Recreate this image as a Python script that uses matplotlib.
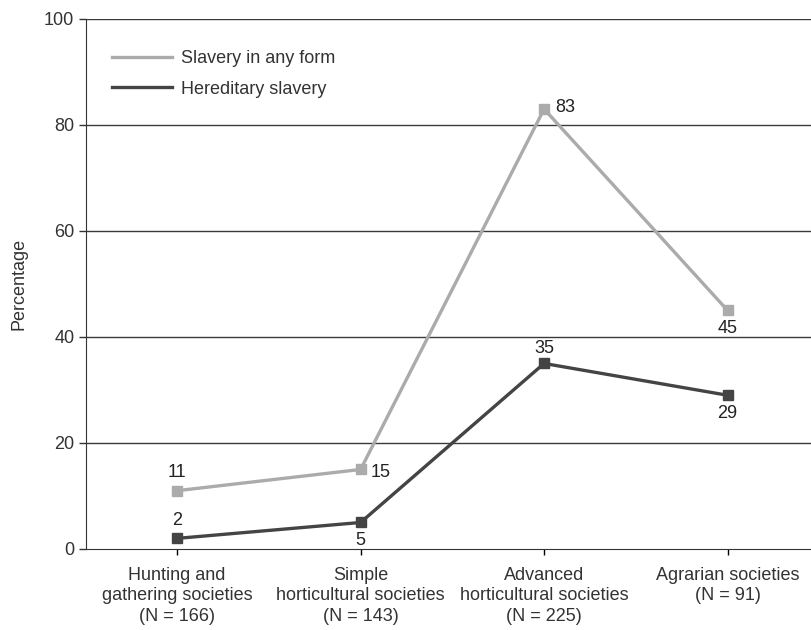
import matplotlib
matplotlib.use('Agg')

from matplotlib import pyplot as plt

categories = ['Hunting and\ngathering societies\n(N = 166)',
              'Simple\nhorticultural societies\n(N = 143)',
              'Advanced\nhorticultural societies\n(N = 225)',
              'Agrarian societies\n(N = 91)']
any_form = [11, 15, 83, 45]
hereditary = [2, 5, 35, 29]
y_ticks = [0, 20, 40, 60, 80, 100]

# label offsets in points (dx, dy, ha, va)
any_offsets = [(0, 7, 'center', 'bottom'), (7, -2, 'left', 'center'),
               (8, 1, 'left', 'center'), (0, -7, 'center', 'top')]
her_offsets = [(0, 7, 'center', 'bottom'), (0, -7, 'center', 'top'),
               (0, 5, 'center', 'bottom'), (0, -7, 'center', 'top')]

plt.rcParams['font.family'] = ['Liberation Sans', 'DejaVu Sans']
fs = 13

fig = plt.figure(figsize=(8.12, 6.3), dpi=100)
ax = fig.add_axes([0.106, 0.1286, 0.894, 0.8414])

x = list(range(len(categories)))
light = '#ababab'
dark = '#444444'

for yv in y_ticks[1:]:
    ax.axhline(yv, color='#3a3a3a', lw=1.0, zorder=1)

ax.plot(x, any_form, color=light, lw=2.4, marker='s', ms=6.5, label='Slavery in any form', zorder=3)
ax.plot(x, hereditary, color=dark, lw=2.4, marker='s', ms=6.5, label='Hereditary slavery', zorder=3)

for xi, v, (dx, dy, ha, va) in zip(x, any_form, any_offsets):
    ax.annotate(str(v), (xi, v), xytext=(dx, dy), textcoords='offset points',
                ha=ha, va=va, fontsize=fs, color='#222222')
for xi, v, (dx, dy, ha, va) in zip(x, hereditary, her_offsets):
    ax.annotate(str(v), (xi, v), xytext=(dx, dy), textcoords='offset points',
                ha=ha, va=va, fontsize=fs, color='#222222')

ax.set_xlim(-0.496, 3.46)
ax.set_ylim(0, 100)
ax.set_yticks(y_ticks)
ax.set_xticks(x)
ax.set_xticklabels(categories, fontsize=fs, color='#333333', linespacing=1.25)
ax.tick_params(axis='y', labelsize=fs, colors='#333333', length=5, width=1, direction='out')
ax.tick_params(axis='x', length=4, width=1, direction='out', pad=9)
ax.set_ylabel('Percentage', fontsize=fs, color='#333333', labelpad=12)

for s in ['top', 'right']:
    ax.spines[s].set_visible(False)
ax.spines['left'].set_color('#333333')
ax.spines['bottom'].set_color('#333333')

leg = ax.legend(loc='upper left', bbox_to_anchor=(0.014, 0.972), frameon=False,
                fontsize=fs, handlelength=3.3, labelspacing=0.75, handletextpad=0.5)
for h in leg.legend_handles:
    h.set_marker('')
for t in leg.get_texts():
    t.set_color('#333333')

fig.savefig('out.png', dpi=100)
